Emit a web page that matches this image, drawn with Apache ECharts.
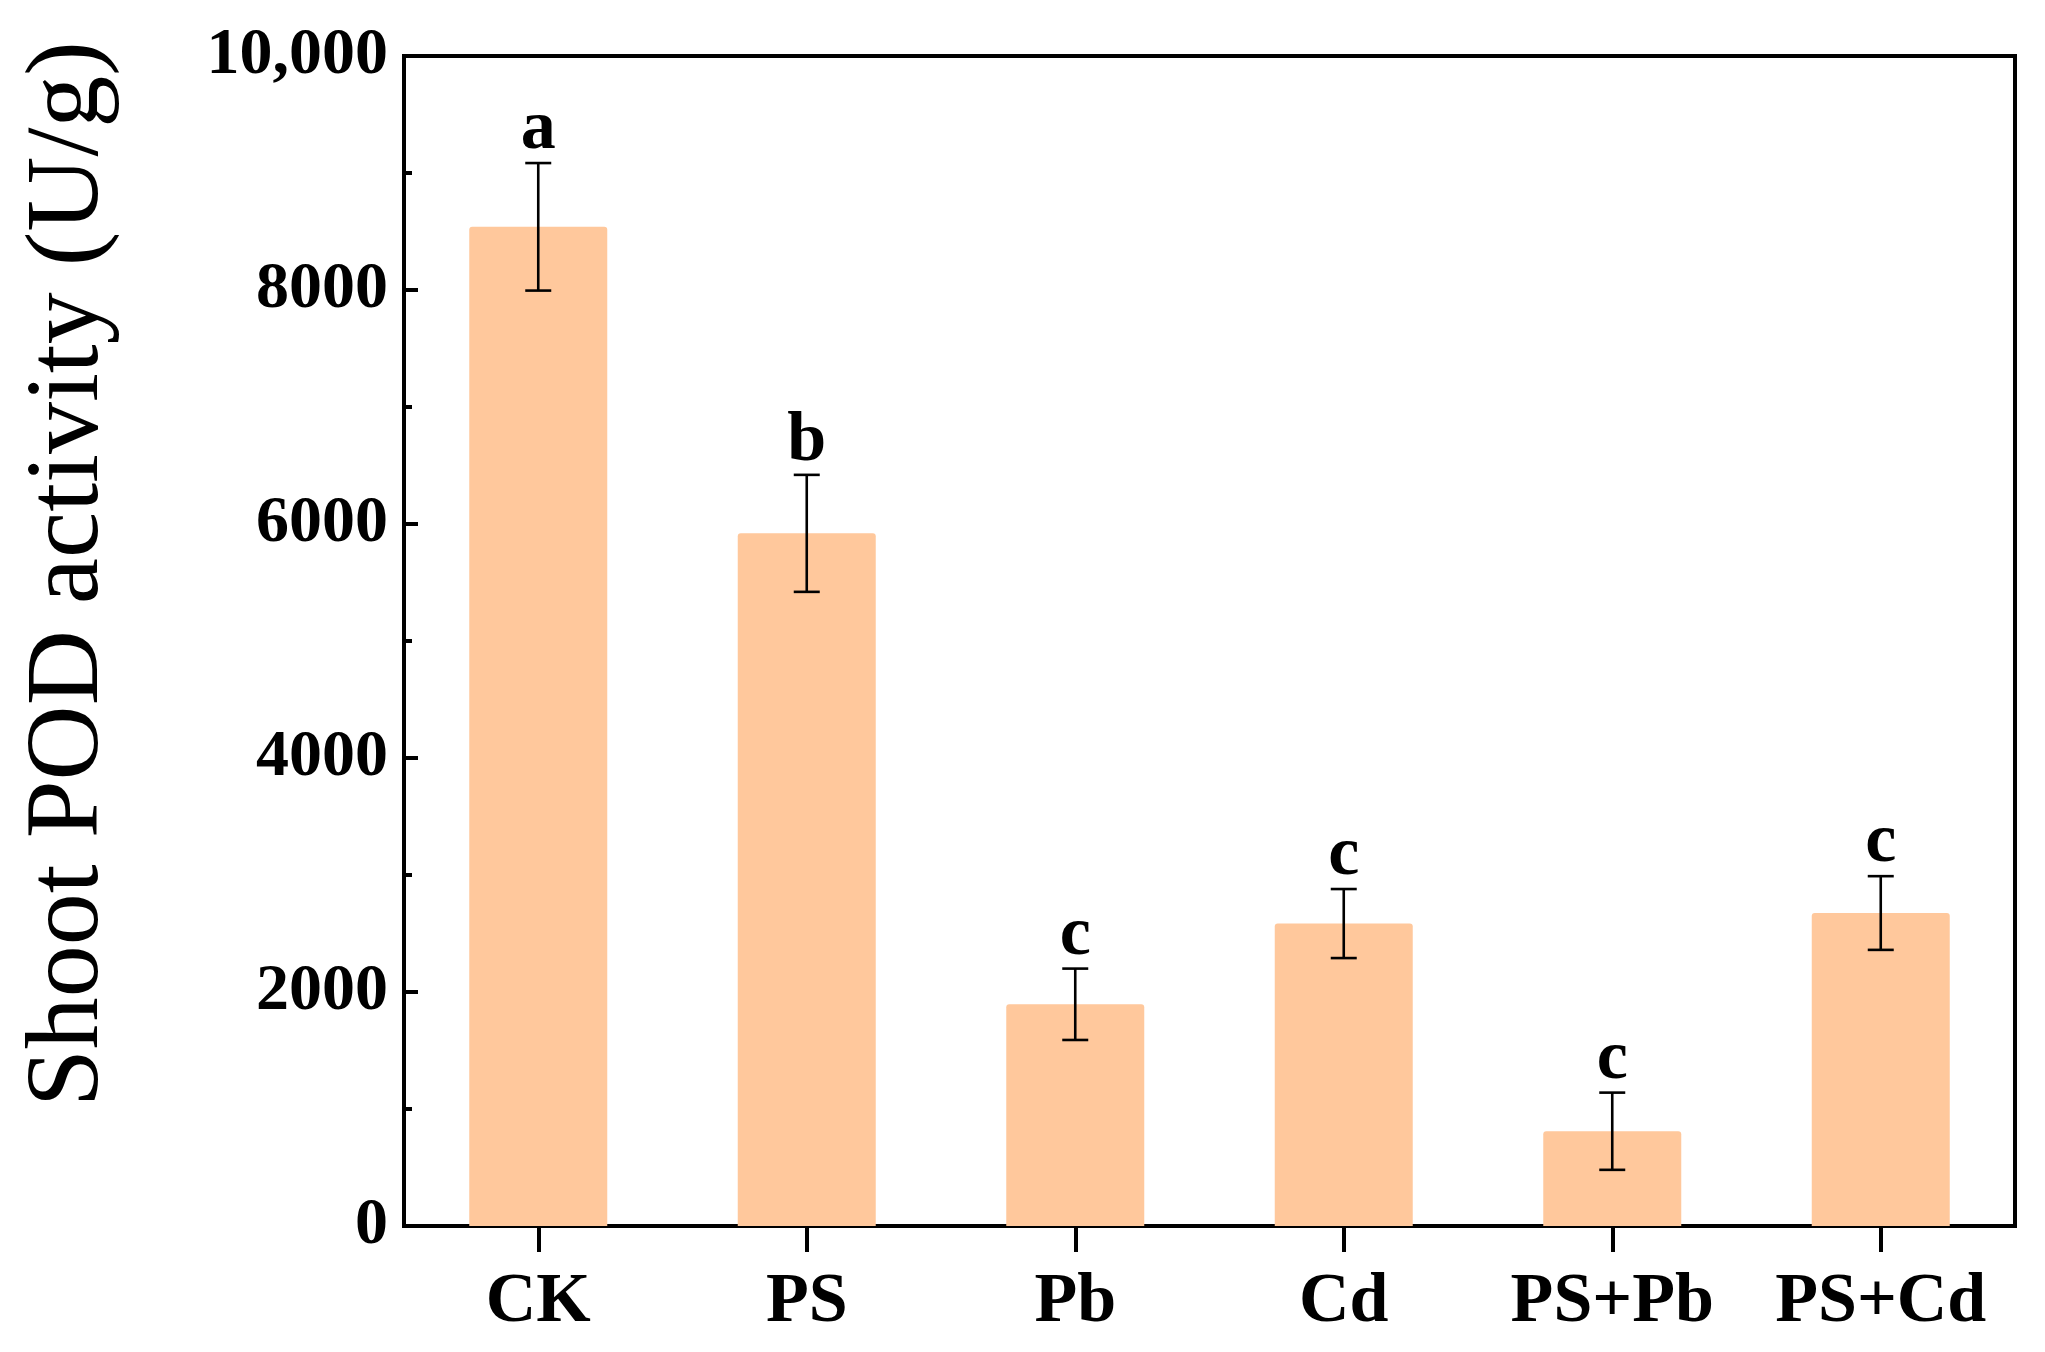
<!DOCTYPE html>
<html>
<head>
<meta charset="utf-8">
<title>Shoot POD activity</title>
<script src="https://cdn.jsdelivr.net/npm/echarts@6/dist/echarts.min.js"></script>
<style>
    html, body { margin: 0; padding: 0; background: #fff; }
    #chart { width: 2045px; height: 1352px; }
</style>
</head>
<body>
<div id="chart"></div>
<script>
// 处理组
const groups = ['CK', 'PS', 'Pb', 'Cd', 'PS+Pb', 'PS+Cd'];
// 平均值与标准差 (U/g)
const podMean = [8540, 5920, 1895, 2585, 810, 2675];
const podErr = [545, 500, 305, 295, 330, 315];
// 显著性字母
const sigLetters = ['a', 'b', 'c', 'c', 'c', 'c'];
// y轴刻度
const yTicks = [0, 2000, 4000, 6000, 8000, 10000];

const FONT = '"Liberation Serif", "Times New Roman", serif';

const chart = echarts.init(document.getElementById('chart'));

// 误差棒 + 字母
const renderErrorBar = (params, api) => {
    const i = api.value(0);
    const top = api.coord([i, api.value(2)]);
    const bottom = api.coord([i, api.value(1)]);
    const cap = 13;
    const style = { stroke: '#000', lineWidth: 2.6 };
    return {
        type: 'group',
        children: [
            { type: 'line', shape: { x1: top[0], y1: top[1], x2: bottom[0], y2: bottom[1] }, style },
            { type: 'line', shape: { x1: top[0] - cap, y1: top[1], x2: top[0] + cap, y2: top[1] }, style },
            { type: 'line', shape: { x1: bottom[0] - cap, y1: bottom[1], x2: bottom[0] + cap, y2: bottom[1] }, style },
            {
                type: 'text',
                x: top[0],
                y: top[1] + 2,
                style: {
                    text: sigLetters[i],
                    font: 'bold 70px ' + FONT,
                    fill: '#000',
                    align: 'center',
                    verticalAlign: 'bottom'
                }
            }
        ]
    };
};

chart.setOption({
    animation: false,
    backgroundColor: '#fff',
    grid: {
        left: 404,
        right: 30,
        top: 56,
        bottom: 126,
        show: true,
        borderColor: '#000',
        borderWidth: 4,
        backgroundColor: 'transparent'
    },
    graphic: [{
        type: 'text',
        x: 70,
        y: 574,
        rotation: Math.PI / 2,
        style: {
            text: 'Shoot POD activity (U/g)',
            font: '104px ' + FONT,
            fill: '#000',
            align: 'center',
            verticalAlign: 'middle'
        }
    }],
    xAxis: {
        type: 'category',
        data: groups,
        axisLine: { lineStyle: { color: '#000', width: 4 } },
        axisTick: { show: true, alignWithLabel: true, length: 26, lineStyle: { color: '#000', width: 4 } },
        axisLabel: {
            interval: 0,
            margin: 42,
            color: '#000',
            fontFamily: FONT,
            fontWeight: 'bold',
            fontSize: 70
        },
        splitLine: { show: false }
    },
    yAxis: {
        type: 'value',
        min: yTicks[0],
        max: yTicks[yTicks.length - 1],
        interval: 2000,
        axisLine: { show: true, lineStyle: { color: '#000', width: 4 } },
        axisTick: { show: true, inside: true, length: 14, lineStyle: { color: '#000', width: 4 } },
        minorTick: { show: true, splitNumber: 2, length: 8, lineStyle: { color: '#000', width: 4 } },
        axisLabel: {
            margin: 16,
            color: '#000',
            fontFamily: FONT,
            fontWeight: 'bold',
            fontSize: 66,
            formatter: (v) => (v === 10000 ? '10,000' : String(v))
        },
        splitLine: { show: false }
    },
    series: [
        {
            type: 'bar',
            data: podMean,
            barWidth: 138,
            itemStyle: { color: '#FFC89C', borderRadius: [3, 3, 0, 0] },
            z: 2
        },
        {
            type: 'custom',
            renderItem: renderErrorBar,
            data: podMean.map((m, i) => [i, m - podErr[i], m + podErr[i]]),
            encode: { x: 0, y: [1, 2] },
            z: 3
        }
    ]
});
</script>
</body>
</html>
